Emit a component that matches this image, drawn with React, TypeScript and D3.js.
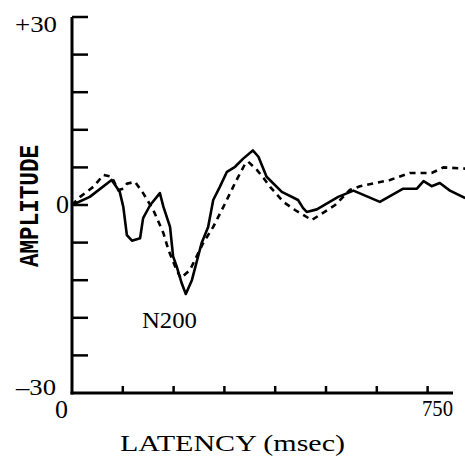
import { useEffect, useRef } from 'react';
import * as d3 from 'd3';

// latency (ms) / amplitude pairs
const solidLatency = [0, 35, 78, 94, 101, 108, 118, 134, 140, 154, 173, 180, 193, 199, 206, 216, 224, 236, 255, 268, 278, 291, 305, 321, 337, 356, 367, 383, 413, 445, 455, 462, 482, 524, 554, 606, 652, 679, 692, 708, 724, 744, 774];
const solidAmplitude = [0, 1.3, 4.0, 2.1, -0.3, -4.8, -5.7, -5.3, -2.1, 0, 1.9, -0.3, -3.5, -8.2, -9.8, -12.5, -14.2, -12.0, -6.1, -3.5, 0.8, 2.9, 5.3, 6.1, 7.4, 8.7, 7.7, 4.5, 2.1, 0.8, -0.5, -1.1, -0.7, 1.3, 2.3, 0.5, 2.6, 2.6, 3.8, 3.0, 3.5, 2.3, 1.1];

const dashedLatency = [0, 16, 42, 62, 78, 91, 101, 108, 124, 140, 160, 180, 190, 203, 214, 232, 258, 278, 298, 324, 341, 347, 364, 377, 390, 416, 439, 472, 518, 547, 567, 626, 665, 708, 731, 774];
const dashedAmplitude = [0, 1.3, 2.9, 4.8, 4.5, 2.4, 2.6, 3.4, 3.7, 1.9, -0.8, -4.5, -7.2, -9.8, -11.7, -10.4, -6.1, -3.5, -0.3, 4.0, 6.6, 6.9, 5.6, 4.3, 2.9, 0.5, -0.8, -2.4, 0, 2.4, 3.0, 4.0, 5.1, 5.1, 6.0, 5.8];

const xTicks = [100, 200, 300, 400, 500, 600, 700];
const yTicks = [-24, -18, -12, -6, 0, 6, 12, 18, 24, 30];

const App = () => {
  const svgRef = useRef<SVGSVGElement>(null);

  useEffect(() => {
    if (!svgRef.current) return;
    const svg = d3.select(svgRef.current);
    svg.selectAll('*').remove();

    const x = d3.scaleLinear().domain([0, 750]).range([72, 453]);
    const y = d3.scaleLinear().domain([-30, 30]).range([393, 17]);

    const serif = '"Liberation Serif", "Times New Roman", serif';

    // axes
    svg.append('line')
      .attr('x1', x(0)).attr('x2', x(0))
      .attr('y1', y(30)).attr('y2', y(-30) + 1.5)
      .attr('stroke', '#000').attr('stroke-width', 3);
    svg.append('line')
      .attr('x1', x(0) - 1.5).attr('x2', x(750))
      .attr('y1', y(-30)).attr('y2', y(-30))
      .attr('stroke', '#000').attr('stroke-width', 3);

    svg.selectAll('.ytick')
      .data(yTicks)
      .join('line')
      .attr('class', 'ytick')
      .attr('x1', x(0)).attr('x2', x(0) + 16)
      .attr('y1', d => y(d)).attr('y2', d => y(d))
      .attr('stroke', '#000').attr('stroke-width', 2.5);

    svg.selectAll('.xtick')
      .data(xTicks)
      .join('line')
      .attr('class', 'xtick')
      .attr('x1', d => x(d)).attr('x2', d => x(d))
      .attr('y1', y(-30)).attr('y2', y(-30) - 7)
      .attr('stroke', '#000').attr('stroke-width', 2.5);

    // traces
    const line = d3.line<[number, number]>()
      .x(d => x(d[0]))
      .y(d => y(d[1]));

    const dashed = dashedLatency.map((t, i) => [t, dashedAmplitude[i]] as [number, number]);
    const solid = solidLatency.map((t, i) => [t, solidAmplitude[i]] as [number, number]);

    svg.append('path')
      .attr('d', line(dashed))
      .attr('fill', 'none')
      .attr('stroke', '#000')
      .attr('stroke-width', 2.6)
      .attr('stroke-dasharray', '6 5');

    svg.append('path')
      .attr('d', line(solid))
      .attr('fill', 'none')
      .attr('stroke', '#000')
      .attr('stroke-width', 2.6)
      .attr('stroke-linejoin', 'round');

    // labels (widths stretched to match the scanned figure)
    const text = (tx: number, ty: number, s: string, anchor: string, size: number, len?: number) => {
      const t = svg.append('text')
        .attr('x', tx).attr('y', ty)
        .attr('text-anchor', anchor)
        .attr('font-family', serif)
        .attr('font-size', size)
        .text(s);
      if (len) t.attr('textLength', len).attr('lengthAdjust', 'spacingAndGlyphs');
      return t;
    };

    text(57, 32, '+30', 'end', 23, 42);
    text(69, 213, '0', 'end', 26, 13);
    text(56, 395, '\u201330', 'end', 24, 40);
    text(55, 418, '0', 'start', 25, 13);
    text(453, 416, '750', 'end', 24, 31);
    text(120, 451, 'LATENCY (msec)', 'start', 24, 225);
    text(142, 328, 'N200', 'start', 24, 55);

    svg.append('text')
      .attr('transform', 'translate(38,206) rotate(-90)')
      .attr('text-anchor', 'middle')
      .attr('font-family', '"Liberation Mono", "Courier New", monospace')
      .attr('font-weight', 'bold')
      .attr('font-size', 27)
      .attr('textLength', 122)
      .attr('lengthAdjust', 'spacingAndGlyphs')
      .text('AMPLITUDE');
  }, []);

  return (
    <svg
      ref={svgRef}
      width={465}
      height={456}
      style={{ position: 'fixed', left: 0, top: 0, background: '#fff' }}
    />
  );
};

export default App;
